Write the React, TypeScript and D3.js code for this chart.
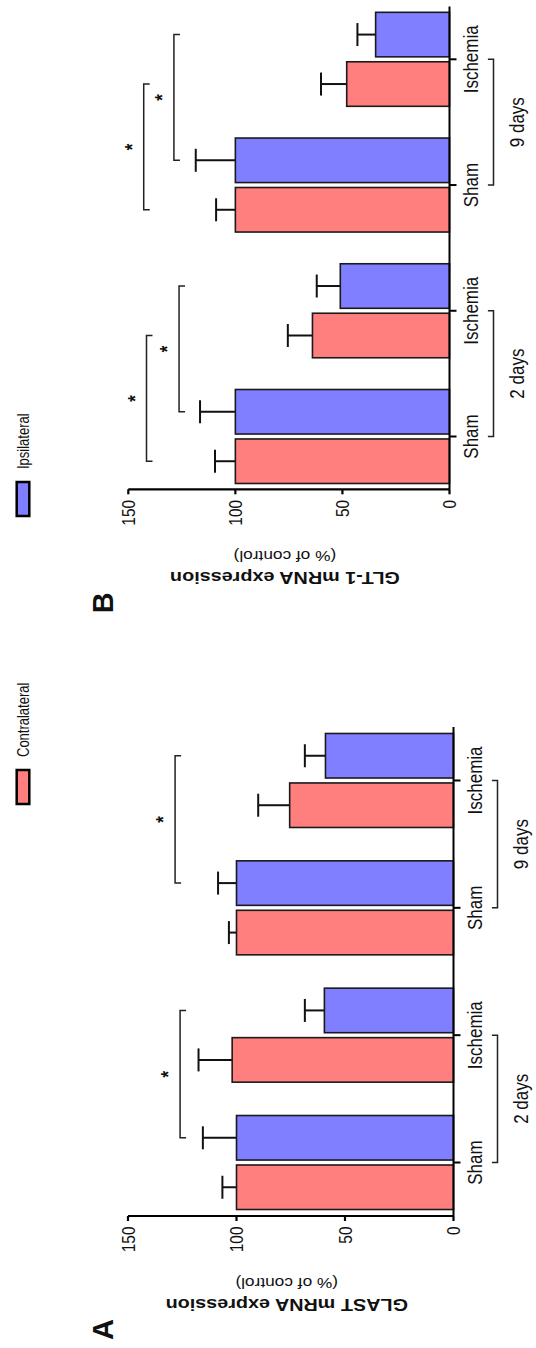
import * as d3 from 'd3';

const W = 536;
const H = 1348;
const STRETCH = 1.2;
const FONT = "'Liberation Sans', Arial, Helvetica, sans-serif";

// data
const categories = ['Sham', 'Ischemia', 'Sham', 'Ischemia'];
const timeGroups = ['2 days', '9 days'];
const seriesNames = ['Contralateral', 'Ipsilateral'];
const seriesColors = ['#ff7f7f', '#7f7fff'];
const valueTicks = [0, 50, 100, 150];

const glastContra = [100, 102, 100, 75.5];
const glastContraSem = [6.5, 15.5, 3.5, 14.5];
const glastIpsi = [100, 59.5, 100, 59];
const glastIpsiSem = [15.5, 9, 8.5, 9.5];

const glt1Contra = [100, 64, 100, 48];
const glt1ContraSem = [9.5, 11.5, 9, 12];
const glt1Ipsi = [100, 51, 100, 34.5];
const glt1IpsiSem = [16.5, 11, 18.5, 8.5];

// significance: series compared Sham vs Ischemia within a time group, bracket level in % units
const glastSig = [
  { group: '2 days', series: 'Ipsilateral', level: 126 },
  { group: '9 days', series: 'Ipsilateral', level: 128.3 },
];
const glt1Sig = [
  { group: '2 days', series: 'Contralateral', level: 141.5 },
  { group: '2 days', series: 'Ipsilateral', level: 126.3 },
  { group: '9 days', series: 'Contralateral', level: 142.8 },
  { group: '9 days', series: 'Ipsilateral', level: 128.7 },
];

// layout in the unrotated frame (x along 1348, y along 536)
const panels = [
  {
    letter: 'A', title: 'GLAST mRNA expression', xRange: [132, 621], y0: 453.5, yTop: 128,
    values: [glastContra, glastIpsi], sems: [glastContraSem, glastIpsiSem], sig: glastSig,
  },
  {
    letter: 'B', title: 'GLT-1 mRNA expression', xRange: [858.7, 1341.5], y0: 449.5, yTop: 128.3,
    values: [glt1Contra, glt1Ipsi], sems: [glt1ContraSem, glt1IpsiSem], sig: glt1Sig,
  },
];

function T({ x, y, size, anchor = 'start', weight = 'normal', rotate = 0, stretch = STRETCH, children }: any) {
  const tr = `translate(${x},${y}) scale(1,${stretch})` + (rotate ? ` rotate(${rotate})` : '');
  return (
    <text transform={tr} fontSize={size} textAnchor={anchor} fontWeight={weight} fontFamily={FONT} fill="#111">
      {children}
    </text>
  );
}

function Panel({ p }: any) {
  const ids = categories.map((_, i) => i);
  const x = d3.scalePoint<number>().domain(ids).range(p.xRange).padding(0.42);
  const inner = d3.scaleBand<string>().domain(seriesNames).range([-47, 47]).paddingInner(0.1);
  const y = d3.scaleLinear().domain([0, 150]).range([p.y0, p.yTop]);
  const bw = inner.bandwidth();
  const axisX = p.xRange[0];
  const cx = (i: number, s: string) => (x(i) as number) + (inner(s) as number) + bw / 2;

  return (
    <g>
      {/* bars */}
      {seriesNames.map((s, si) =>
        ids.map((i) => {
          const v = p.values[si][i];
          const top = v + p.sems[si][i];
          const c = cx(i, s);
          return (
            <g key={s + i}>
              <line x1={c} x2={c} y1={y(v)} y2={y(top)} stroke="#111" strokeWidth={2} />
              <line x1={c - 11.5} x2={c + 11.5} y1={y(top)} y2={y(top)} stroke="#111" strokeWidth={2} />
              <rect x={(x(i) as number) + (inner(s) as number)} y={y(v)} width={bw} height={y(0) - y(v)}
                fill={seriesColors[si]} stroke="#1a1a1a" strokeWidth={1.6} />
            </g>
          );
        })
      )}

      {/* value axis */}
      <line x1={axisX} x2={axisX} y1={y(0)} y2={y(150)} stroke="#000" strokeWidth={2.2} />
      {valueTicks.map((t) => (
        <g key={t}>
          <line x1={axisX - 5} x2={axisX} y1={y(t)} y2={y(t)} stroke="#000" strokeWidth={2.2} />
          <T x={axisX - 10.5} y={y(t) + 6.7} size={15.5} anchor="end">{t}</T>
        </g>
      ))}

      {/* category axis */}
      <line x1={p.xRange[0]} x2={p.xRange[1]} y1={y(0)} y2={y(0)} stroke="#000" strokeWidth={2} />
      {ids.map((i) => (
        <g key={i}>
          <line x1={x(i)} x2={x(i)} y1={y(0)} y2={y(0) + 7} stroke="#000" strokeWidth={2} />
          <T x={x(i)} y={y(0) + 28} size={17} anchor="middle">{categories[i]}</T>
        </g>
      ))}

      {/* time group brackets */}
      {timeGroups.map((g, gi) => {
        const xa = x(gi * 2) as number;
        const xb = x(gi * 2 + 1) as number;
        const yb = y(0) + 44;
        return (
          <g key={g}>
            <path d={`M${xa},${yb - 5.6}V${yb}H${xb}V${yb - 5.6}`} fill="none" stroke="#222" strokeWidth={1.5} />
            <T x={(xa + xb) / 2} y={y(0) + 74} size={17} anchor="middle">{g}</T>
          </g>
        );
      })}

      {/* significance brackets */}
      {p.sig.map((sg: any, k: number) => {
        const gi = timeGroups.indexOf(sg.group);
        const xa = cx(gi * 2, sg.series);
        const xb = cx(gi * 2 + 1, sg.series);
        const yl = y(sg.level);
        return (
          <g key={k}>
            <path d={`M${xa},${yl + 6}V${yl}H${xb}V${yl + 6}`} fill="none" stroke="#222" strokeWidth={1.5} />
            <T x={(xa + xb) / 2} y={yl - 5} size={17} anchor="middle" weight="bold">*</T>
          </g>
        );
      })}

      {/* axis titles */}
      <T x={axisX - 83} y={(p.y0 + p.yTop) / 2 - 4} size={16.5} anchor="middle" weight="bold" rotate={-90}>{p.title}</T>
      <T x={axisX - 62} y={(p.y0 + p.yTop) / 2 - 4} size={14.4} anchor="middle" rotate={-90}>(% of control)</T>

      {/* panel letter */}
      <T x={axisX - 124} y={113.3} size={29} weight="bold" stretch={1}>{p.letter}</T>
    </g>
  );
}

export default function App() {
  const legendX = [544, 832];
  return (
    <svg width={W} height={H} style={{ position: 'absolute', left: 0, top: 0, background: '#fff' }}>
      <rect width={W} height={H} fill="#fff" />
      <g transform={`translate(0,${H}) rotate(-90)`}>
        {panels.map((p) => <Panel key={p.letter} p={p} />)}
        {seriesNames.map((s, i) => (
          <g key={s}>
            <rect x={legendX[i]} y={16.7} width={34} height={12.6} fill={seriesColors[i]} stroke="#000" strokeWidth={2.5} />
            <T x={legendX[i] + 47} y={29} size={13}>{s}</T>
          </g>
        ))}
      </g>
    </svg>
  );
}
